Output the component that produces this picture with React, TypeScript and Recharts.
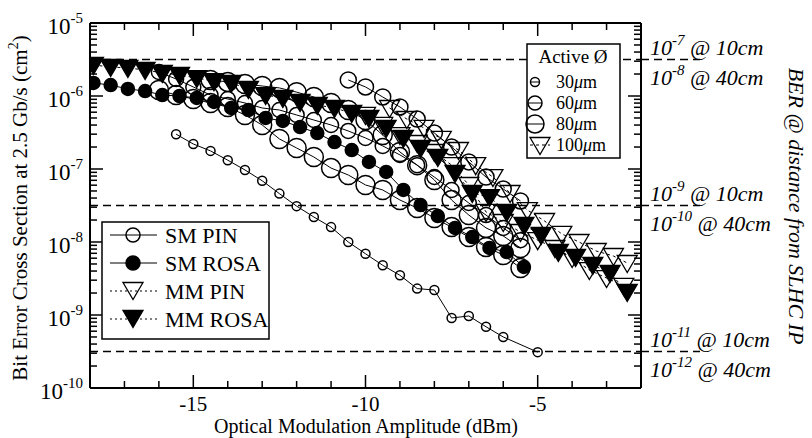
import React from "react";
import { ScatterChart, Scatter, XAxis, YAxis, ReferenceLine } from "recharts";

const FONT = "'Liberation Serif', 'Times New Roman', serif";

// x: optical modulation amplitude (dBm), y: bit error cross section (cm^2)
const smPin30X = [-15.5, -15, -14.5, -14, -13.5, -13, -12.5, -12, -11.5, -11, -10.5, -10, -9.5, -9, -8.5, -8, -7.5, -7, -6.5, -6, -5];
const smPin30Y = [3.0e-7, 2.2e-7, 1.77e-7, 1.32e-7, 9.7e-8, 6.9e-8, 4.6e-8, 3.1e-8, 2.2e-8, 1.6e-8, 1.0e-8, 6.9e-9, 4.8e-9, 3.5e-9, 2.3e-9, 2.2e-9, 9.1e-10, 9.7e-10, 6.9e-10, 5.0e-10, 3.1e-10];

const smPinAX = [-16, -15.5, -15, -14.5, -14, -13.5, -13, -12.5, -12, -11.5, -11, -10.5, -10, -9.5, -9, -8.5, -8, -7.5, -7, -6.5, -6, -5.5];
const smPinAY = [1.21e-6, 1.03e-6, 9.1e-7, 8.02e-7, 7.07e-7, 5.5e-7, 4.01e-7, 2.58e-7, 1.94e-7, 1.46e-7, 1.03e-7, 8.28e-8, 6.04e-8, 5.16e-8, 3.76e-8, 2.92e-8, 2.13e-8, 1.6e-8, 1.17e-8, 8.55e-9, 6.64e-9, 4.4e-9];

const smPinBX = [-16, -15.5, -15, -14.5, -14, -13.5, -13, -12.5, -12, -11.5, -11, -10.5, -10, -9.5, -9, -8.5, -8, -7.5, -7, -6.5, -6, -5.5];
const smPinBY = [2.13e-6, 1.71e-6, 1.33e-6, 1.03e-6, 9.1e-7, 8.02e-7, 6.85e-7, 6.43e-7, 5.5e-7, 4.69e-7, 4.01e-7, 3.32e-7, 2.66e-7, 2.07e-7, 1.56e-7, 1.13e-7, 7.76e-8, 5.16e-8, 3.42e-8, 2.34e-8, 1.56e-8, 1.06e-8];

const smPinCX = [-14.5, -14, -13.5, -13, -12.5, -12, -11.5, -11, -10.5, -10, -9.5, -9, -8.5, -8, -7.5, -7, -6.5, -6, -5.5];
const smPinCY = [1.66e-6, 1.56e-6, 1.46e-6, 1.37e-6, 1.29e-6, 1.13e-6, 9.69e-7, 8.02e-7, 6.43e-7, 4.69e-7, 2.92e-7, 1.71e-7, 1.13e-7, 7.07e-8, 3.76e-8, 2.34e-8, 1.56e-8, 1.21e-8, 8.28e-9];

const smPinDX = [-10.5, -10, -9.5, -9, -8.5, -8, -7.5, -7, -6.5, -6, -5.5];
const smPinDY = [1.66e-6, 1.33e-6, 9.69e-7, 7.07e-7, 4.84e-7, 3.11e-7, 2.0e-7, 1.25e-7, 7.76e-8, 5.32e-8, 3.65e-8];

const smRosaX = [-17.9, -17.4, -16.9, -16.4, -15.9, -15.4, -14.9, -14.4, -13.9, -13.4, -12.9, -12.4, -11.9, -11.4, -10.9, -10.4, -9.9, -9.4, -8.9, -8.4, -7.9, -7.4, -6.9, -6.4, -5.9, -5.4];
const smRosaY = [1.51e-6, 1.41e-6, 1.25e-6, 1.17e-6, 1.03e-6, 1.0e-6, 9.39e-7, 8.28e-7, 6.85e-7, 6.43e-7, 5.0e-7, 4.55e-7, 3.76e-7, 3.11e-7, 2.34e-7, 1.82e-7, 1.25e-7, 9.1e-8, 5.16e-8, 3.21e-8, 2.27e-8, 1.56e-8, 1.17e-8, 8.28e-9, 7.29e-9, 4.55e-9];

const mmPinAX = [-9.3, -8.8, -8.3, -7.8, -7.3, -6.8, -6.3, -5.8, -5.3, -4.8, -4.3, -3.8, -3.3, -2.8, -2.4];
const mmPinAY = [6.85e-7, 4.84e-7, 3.65e-7, 2.58e-7, 1.82e-7, 1.13e-7, 7.76e-8, 4.69e-8, 2.74e-8, 1.94e-8, 1.29e-8, 1.0e-8, 7.53e-9, 6.43e-9, 5.16e-9];

const mmPinBX = [-10, -9.5, -9, -8.5, -8, -7.5, -7, -6.5, -6, -5.5, -5, -4.5, -4, -3.5, -3, -2.5];
const mmPinBY = [5.5e-7, 4.01e-7, 2.92e-7, 2.27e-7, 1.71e-7, 1.13e-7, 6.04e-8, 2.58e-8, 1.88e-8, 1.37e-8, 1.06e-8, 8.28e-9, 6.04e-9, 4.13e-9, 3.21e-9, 2.5e-9];

const mmRosaX = [-17.9, -17.4, -16.9, -16.4, -15.9, -15.4, -14.9, -14.4, -13.9, -13.4, -12.9, -12.4, -11.9, -11.4, -10.9, -10.4, -9.9, -9.4, -8.9, -8.4, -7.9, -7.4, -6.9, -6.4, -5.9, -5.4, -4.9, -4.4, -3.9, -3.4, -2.9, -2.4];
const mmRosaY = [2.66e-6, 2.5e-6, 2.42e-6, 2.27e-6, 2.07e-6, 1.94e-6, 1.76e-6, 1.6e-6, 1.51e-6, 1.25e-6, 1.03e-6, 9.39e-7, 8.28e-7, 7.53e-7, 6.85e-7, 5.85e-7, 5.0e-7, 3.65e-7, 2.66e-7, 1.94e-7, 1.46e-7, 8.81e-8, 4.69e-8, 4.13e-8, 2.58e-8, 1.71e-8, 1.25e-8, 7.29e-9, 6.23e-9, 4.84e-9, 3.76e-9, 2.07e-9];

// axis ticks
const xTicks = [-18, -17, -16, -15, -14, -13, -12, -11, -10, -9, -8, -7, -6, -5, -4, -3, -2];
const xLabeled = [-15, -10, -5];
const yDecades = [1e-10, 1e-9, 1e-8, 1e-7, 1e-6];
const yTicks = [...yDecades.flatMap((d) => [1, 2, 3, 4, 5, 6, 7, 8, 9].map((m) => m * d)), 1e-5];

// BER levels marked with dashed lines
const berLines = [
  { y: 3.16e-6, upper: "-7", lower: "-8" },
  { y: 3.16e-8, upper: "-9", lower: "-10" },
  { y: 3.16e-10, upper: "-11", lower: "-12" },
];

const pts = (xs: number[], ys: number[]) => xs.map((x, i) => ({ x, y: ys[i] }));

type Kind = "circle" | "tri";
const series = [
  { name: "SM PIN 30", data: pts(smPin30X, smPin30Y), kind: "circle" as Kind, size: 4.5, filled: false, dashed: false },
  { name: "SM PIN a", data: pts(smPinAX, smPinAY), kind: "circle" as Kind, size: 9.5, filled: false, dashed: false },
  { name: "SM PIN b", data: pts(smPinBX, smPinBY), kind: "circle" as Kind, size: 7.5, filled: false, dashed: false },
  { name: "SM PIN c", data: pts(smPinCX, smPinCY), kind: "circle" as Kind, size: 9.5, filled: false, dashed: false },
  { name: "SM PIN d", data: pts(smPinDX, smPinDY), kind: "circle" as Kind, size: 8, filled: false, dashed: false },
  { name: "SM ROSA", data: pts(smRosaX, smRosaY), kind: "circle" as Kind, size: 6.5, filled: true, dashed: false },
  { name: "MM PIN b", data: pts(mmPinBX, mmPinBY), kind: "tri" as Kind, size: 10, filled: false, dashed: true },
  { name: "MM PIN a", data: pts(mmPinAX, mmPinAY), kind: "tri" as Kind, size: 10, filled: false, dashed: true },
  { name: "MM ROSA", data: pts(mmRosaX, mmRosaY), kind: "tri" as Kind, size: 10, filled: true, dashed: true },
];

function triPath(cx: number, cy: number, s: number) {
  return `M${cx - s},${cy - s * 0.75} L${cx + s},${cy - s * 0.75} L${cx},${cy + s * 0.95} Z`;
}

function Marker({ kind, cx, cy, size, filled }: { kind: Kind; cx: number; cy: number; size: number; filled: boolean }) {
  const fill = filled ? "#000" : "none";
  if (kind === "tri") {
    return <path d={triPath(cx, cy, size)} fill={fill} stroke="#000" strokeWidth={1.3} />;
  }
  return <circle cx={cx} cy={cy} r={size} fill={fill} stroke="#000" strokeWidth={1.5} />;
}

const isMajor = (v: number) => {
  const l = Math.log10(v);
  return Math.abs(l - Math.round(l)) < 1e-6;
};

function BottomTick({ x, y, payload }: any) {
  const major = xLabeled.includes(payload.value);
  return (
    <g>
      <line x1={x} x2={x} y1={y} y2={y - (major ? 13 : 7)} stroke="#000" strokeWidth={1.5} />
      {major && (
        <text x={x} y={y + 23} textAnchor="middle" fontSize={21} fontFamily={FONT} fill="#000">
          {payload.value}
        </text>
      )}
    </g>
  );
}

function TopTick({ x, y, payload }: any) {
  const major = xLabeled.includes(payload.value);
  return <line x1={x} x2={x} y1={y} y2={y + (major ? 13 : 7)} stroke="#000" strokeWidth={1.5} />;
}

function LeftTick({ x, y, payload }: any) {
  const major = isMajor(payload.value);
  const exp = Math.round(Math.log10(payload.value));
  return (
    <g>
      <line x1={x} x2={x + (major ? 13 : 7)} y1={y} y2={y} stroke="#000" strokeWidth={1.5} />
      {major && (
        <text x={x - 7} y={y + 11} textAnchor="end" fontSize={23} fontFamily={FONT} fill="#000">
          10
          <tspan dy={-11} fontSize={15}>
            {exp}
          </tspan>
        </text>
      )}
    </g>
  );
}

function RightTick({ x, y, payload }: any) {
  const major = isMajor(payload.value);
  return <line x1={x} x2={x - (major ? 13 : 7)} y1={y} y2={y} stroke="#000" strokeWidth={1.5} />;
}

function BerLabel(props: any) {
  const { viewBox, upper, lower } = props;
  if (!viewBox) return null;
  const xr = viewBox.x + viewBox.width;
  const y = viewBox.y;
  return (
    <g>
      <line x1={xr} x2={xr + 59} y1={y} y2={y} stroke="#000" strokeWidth={1.5} strokeDasharray="8 5" />
      <text x={xr + 9} y={y - 5} fontSize={22} fontStyle="italic" fontFamily={FONT} fill="#000">
        10
        <tspan dy={-10} fontSize={15}>
          {upper}
        </tspan>
        <tspan dy={10}> @ 10cm</tspan>
      </text>
      <text x={xr + 9} y={y + 25} fontSize={22} fontStyle="italic" fontFamily={FONT} fill="#000">
        10
        <tspan dy={-10} fontSize={15}>
          {lower}
        </tspan>
        <tspan dy={10}> @ 40cm</tspan>
      </text>
    </g>
  );
}

function Legends() {
  const rows = [
    { label: "SM PIN", kind: "circle" as Kind, filled: false, dashed: false, size: 7 },
    { label: "SM ROSA", kind: "circle" as Kind, filled: true, dashed: false, size: 7 },
    { label: "MM PIN", kind: "tri" as Kind, filled: false, dashed: true, size: 10 },
    { label: "MM ROSA", kind: "tri" as Kind, filled: true, dashed: true, size: 10 },
  ];
  const sizes = [
    { label: "30", kind: "circle" as Kind, size: 4.5, cx: 535 },
    { label: "60", kind: "circle" as Kind, size: 7, cx: 535 },
    { label: "80", kind: "circle" as Kind, size: 9, cx: 535 },
    { label: "100", kind: "tri" as Kind, size: 10, cx: 540 },
  ];
  return (
    <svg width={812} height={438} style={{ position: "absolute", left: 0, top: 0, pointerEvents: "none" }}>
      <g fontFamily={FONT} fill="#000">
        <rect x={102} y={222} width={167} height={117} fill="#fff" stroke="#000" strokeWidth={1.5} />
        {rows.map((r, i) => {
          const cy = 235 + i * 28;
          return (
            <g key={r.label}>
              <line x1={110} x2={157} y1={cy} y2={cy} stroke="#000" strokeWidth={1} strokeDasharray={r.dashed ? "2 3" : undefined} />
              <Marker kind={r.kind} cx={133} cy={r.kind === "tri" ? cy - 1 : cy} size={r.size} filled={r.filled} />
              <text x={165} y={cy + 8} fontSize={22}>
                {r.label}
              </text>
            </g>
          );
        })}

        <rect x={527} y={44} width={93} height={114} fill="#fff" stroke="#000" strokeWidth={1.5} />
        <text x={573} y={63} fontSize={19} textAnchor="middle">
          Active Ø
        </text>
        {sizes.map((s, i) => {
          const cy = 82 + i * 21;
          return (
            <g key={s.label}>
              <line x1={s.cx - s.size} x2={s.cx + s.size} y1={cy} y2={cy} stroke="#000" strokeWidth={1} strokeDasharray={s.kind === "tri" ? "3 3" : undefined} />
              <Marker kind={s.kind} cx={s.cx} cy={cy} size={s.size} filled={false} />
              <text x={556} y={cy + 6} fontSize={18}>
                {s.label}
                <tspan fontStyle="italic">μ</tspan>m
              </text>
            </g>
          );
        })}

        <text x={366} y={433} fontSize={20} textAnchor="middle">
          Optical Modulation Amplitude (dBm)
        </text>
        <text transform="translate(27,208) rotate(-90)" fontSize={21} textAnchor="middle">
          Bit Error Cross Section at 2.5 Gb/s (cm
          <tspan dy={-9} fontSize={14}>
            2
          </tspan>
          <tspan dy={9}>)</tspan>
        </text>
        <text transform="translate(789,206) rotate(90)" fontSize={22} fontStyle="italic" textAnchor="middle">
          BER @ distance from SLHC IP
        </text>
      </g>
    </svg>
  );
}

export default function App() {
  return (
    <div style={{ position: "absolute", left: 0, top: 0, width: 812, height: 438, background: "#fff" }}>
      <ScatterChart width={812} height={438} margin={{ top: 22, right: 170, bottom: 0, left: 0 }}>
        <XAxis
          xAxisId={0}
          type="number"
          dataKey="x"
          domain={[-18, -2]}
          allowDataOverflow
          ticks={xTicks}
          interval={0}
          height={50}
          tickSize={0}
          tickMargin={0}
          tickLine={false}
          axisLine={{ stroke: "#000", strokeWidth: 2 }}
          tick={<BottomTick />}
        />
        <XAxis
          xAxisId="top"
          orientation="top"
          type="number"
          dataKey="x"
          domain={[-18, -2]}
          allowDataOverflow
          ticks={xTicks}
          interval={0}
          height={1}
          tickSize={0}
          tickMargin={0}
          tickLine={false}
          axisLine={{ stroke: "#000", strokeWidth: 2 }}
          tick={<TopTick />}
        />
        <YAxis
          yAxisId={0}
          type="number"
          dataKey="y"
          scale="log"
          domain={[1e-10, 1e-5]}
          allowDataOverflow
          ticks={yTicks}
          interval={0}
          width={90}
          tickSize={0}
          tickMargin={0}
          tickLine={false}
          axisLine={{ stroke: "#000", strokeWidth: 2 }}
          tick={<LeftTick />}
        />
        <YAxis
          yAxisId="right"
          orientation="right"
          type="number"
          dataKey="y"
          scale="log"
          domain={[1e-10, 1e-5]}
          allowDataOverflow
          ticks={yTicks}
          interval={0}
          width={1}
          tickSize={0}
          tickMargin={0}
          tickLine={false}
          axisLine={{ stroke: "#000", strokeWidth: 2 }}
          tick={<RightTick />}
        />
        {berLines.map((b) => (
          <ReferenceLine
            key={b.y}
            y={b.y}
            yAxisId={0}
            xAxisId={0}
            stroke="#000"
            strokeWidth={1.5}
            strokeDasharray="8 5"
            label={<BerLabel upper={b.upper} lower={b.lower} />}
          />
        ))}
        {series.map((s) => (
          <Scatter
            key={s.name}
            name={s.name}
            data={s.data}
            xAxisId={0}
            yAxisId={0}
            isAnimationActive={false}
            line={{ stroke: "#000", strokeWidth: 1, strokeDasharray: s.dashed ? "3 3" : undefined }}
            shape={(p: any) => <Marker kind={s.kind} cx={p.cx} cy={p.cy} size={s.size} filled={s.filled} />}
          />
        ))}
      </ScatterChart>
      <Legends />
    </div>
  );
}
